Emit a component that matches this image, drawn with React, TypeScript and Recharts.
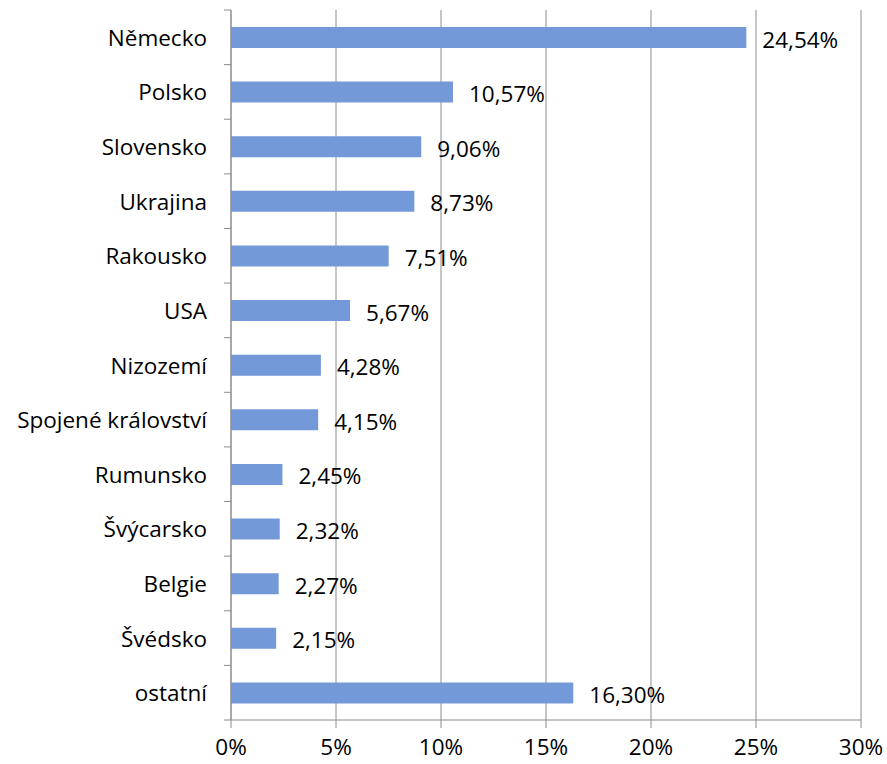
import { BarChart, Bar, XAxis, YAxis, CartesianGrid, LabelList } from 'recharts'

const countries = [
  'Německo',
  'Polsko',
  'Slovensko',
  'Ukrajina',
  'Rakousko',
  'USA',
  'Nizozemí',
  'Spojené království',
  'Rumunsko',
  'Švýcarsko',
  'Belgie',
  'Švédsko',
  'ostatní',
]
const shares = [24.54, 10.57, 9.06, 8.73, 7.51, 5.67, 4.28, 4.15, 2.45, 2.32, 2.27, 2.15, 16.3]
const xTicks = [0, 5, 10, 15, 20, 25, 30]

const data = countries.map((name, i) => ({ name, value: shares[i] }))

const FONT = '"Open Sans", "Noto Sans", sans-serif'
const FS = 22.5
const AXIS_COLOR = '#8c8c8c'
const PLOT_TOP = 10
const PLOT_BOTTOM = 720
const BAND = (PLOT_BOTTOM - PLOT_TOP) / countries.length

function fmt(v: number) {
  return v.toFixed(2).replace('.', ',') + '%'
}

function CategoryTick(props: any) {
  const { x, y, payload, index } = props
  const axisX = x + 24
  const last = index === countries.length - 1
  return (
    <g>
      <line x1={axisX - 7} x2={axisX} y1={y - BAND / 2} y2={y - BAND / 2} stroke={AXIS_COLOR} />
      {last && <line x1={axisX - 7} x2={axisX} y1={y + BAND / 2} y2={y + BAND / 2} stroke={AXIS_COLOR} />}
      <text x={x} y={y} dy={8.5} textAnchor="end" fill="#000" fontSize={FS} fontFamily={FONT}>
        {payload.value}
      </text>
    </g>
  )
}

function ValueLabel(props: any) {
  const { x, y, width, height, value } = props
  return (
    <text x={x + width + 16} y={y + height / 2} dy={10} fill="#000" fontSize={FS} fontFamily={FONT}>
      {fmt(value)}
    </text>
  )
}

export default function App() {
  return (
    <div style={{ width: 887, height: 764, background: '#fff' }}>
      <style>{'body{margin:0}'}</style>
      <BarChart
        width={887}
        height={764}
        data={data}
        layout="vertical"
        margin={{ top: PLOT_TOP, right: 26, bottom: 0, left: 0 }}
      >
        <CartesianGrid horizontal={false} stroke={AXIS_COLOR} strokeWidth={1} />
        <XAxis
          type="number"
          domain={[0, 30]}
          ticks={xTicks}
          height={764 - PLOT_BOTTOM}
          tickFormatter={(v: number) => `${v}%`}
          stroke={AXIS_COLOR}
          tickSize={8}
          tickMargin={11}
          tick={{ fill: '#000', fontSize: FS, fontFamily: FONT }}
        />
        <YAxis
          type="category"
          dataKey="name"
          width={231}
          stroke={AXIS_COLOR}
          tickLine={false}
          tickSize={0}
          tickMargin={24}
          interval={0}
          tick={<CategoryTick />}
        />
        <Bar dataKey="value" fill="#7499d8" barSize={21} isAnimationActive={false}>
          <LabelList dataKey="value" content={<ValueLabel />} />
        </Bar>
      </BarChart>
    </div>
  )
}
